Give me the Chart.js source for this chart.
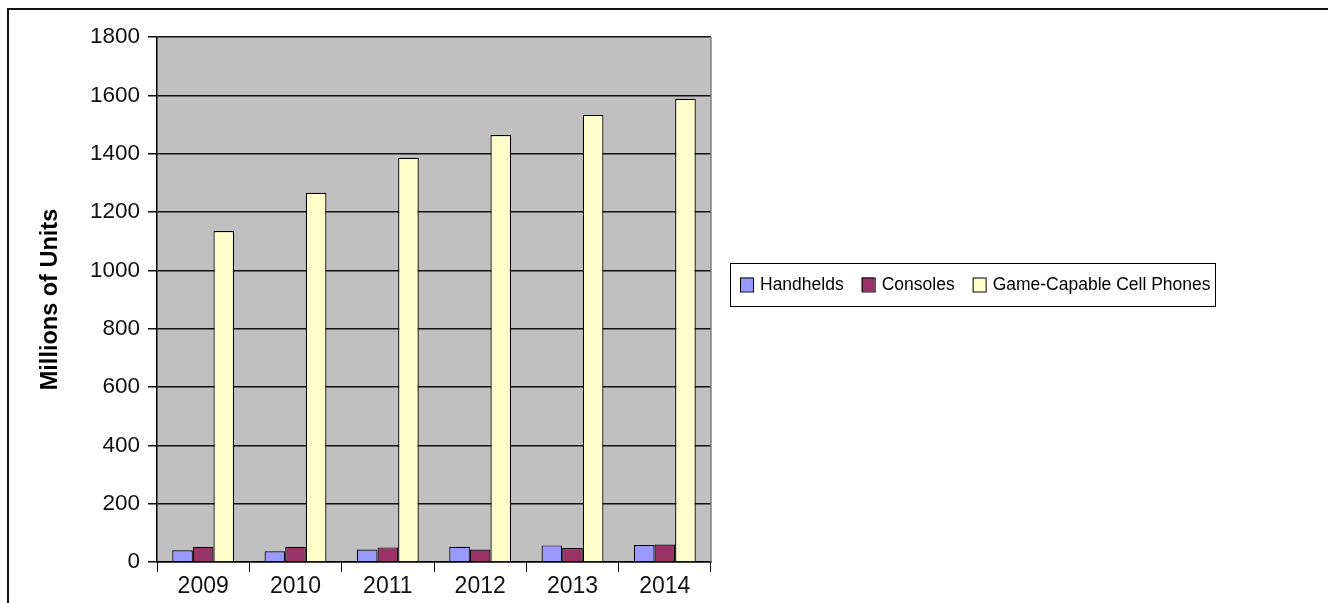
<!DOCTYPE html>
<html>
<head>
<meta charset="utf-8">
<script src="https://cdn.jsdelivr.net/npm/chart.js@4/dist/chart.umd.min.js"></script>
<style>
  html, body { margin: 0; padding: 0; background: #fff; }
  #wrap { width: 1328px; height: 603px; position: relative; }
</style>
</head>
<body>
<div id="wrap"><canvas id="units_canvas"></canvas></div>
<script>
// units shipped per year, millions
var years = ['2009', '2010', '2011', '2012', '2013', '2014'];
var handhelds = [40, 37, 43, 52, 57, 58];
var consoles = [52, 52, 50, 43, 48, 60];
var cellPhones = [1135, 1266, 1386, 1464, 1533, 1588];
var yTicks = [0, 200, 400, 600, 800, 1000, 1200, 1400, 1600, 1800];

var FONT = '"Liberation Sans", Arial, sans-serif';

// gray plot area + right edge line
var plotArea = {
    id: 'plotArea',
    beforeDraw: function (chart) {
        var a = chart.chartArea;
        var ctx = chart.ctx;
        ctx.save();
        ctx.fillStyle = '#c0c0c0';
        ctx.fillRect(a.left, a.top, a.right - a.left, a.bottom - a.top);
        ctx.restore();
    },
    beforeDatasetsDraw: function (chart) {
        var a = chart.chartArea;
        var ctx = chart.ctx;
        ctx.save();
        ctx.strokeStyle = '#808080';
        ctx.lineWidth = 1.5;
        ctx.beginPath();
        ctx.moveTo(a.right, a.top);
        ctx.lineTo(a.right, a.bottom);
        ctx.stroke();
        ctx.restore();
    }
};

// boxed one-row legend to the right of the plot, plus the outer frame
var boxLegend = {
    id: 'boxLegend',
    afterDraw: function (chart) {
        var ctx = chart.ctx;
        ctx.save();

        // outer frame (left + top only)
        ctx.strokeStyle = '#111';
        ctx.lineWidth = 2;
        ctx.beginPath();
        ctx.moveTo(8, 603);
        ctx.lineTo(8, 9);
        ctx.lineTo(1328, 9);
        ctx.stroke();

        var bx = 730, by = 263, bw = 485, bh = 43;
        ctx.fillStyle = '#fff';
        ctx.fillRect(bx, by, bw, bh);
        ctx.strokeStyle = '#000';
        ctx.lineWidth = 1;
        ctx.strokeRect(bx + 0.5, by + 0.5, bw, bh);

        ctx.font = '17.5px ' + FONT;
        ctx.textBaseline = 'middle';
        var cy = by + bh / 2;
        var x = 740;
        chart.data.datasets.forEach(function (ds) {
            ctx.fillStyle = ds.backgroundColor;
            ctx.fillRect(x, cy - 7, 13, 14);
            ctx.strokeStyle = '#000';
            ctx.lineWidth = 1;
            ctx.strokeRect(x + 0.5, cy - 7 + 0.5, 13, 14);
            ctx.fillStyle = '#000';
            ctx.fillText(ds.label, x + 20, cy + 1);
            x += 20 + ctx.measureText(ds.label).width + 18;
        });
        ctx.restore();
    }
};

var ctx = document.getElementById('units_canvas').getContext('2d');
var unitsChart = new Chart(ctx, {
    type: 'bar',
    data: {
        labels: years,
        datasets: [
            { label: 'Handhelds', data: handhelds, backgroundColor: '#9999ff' },
            { label: 'Consoles', data: consoles, backgroundColor: '#993366' },
            { label: 'Game-Capable Cell Phones', data: cellPhones, backgroundColor: '#ffffcc' }
        ]
    },
    options: {
        responsive: true,
        maintainAspectRatio: false,
        animation: false,
        devicePixelRatio: 1,
        layout: { padding: { top: 37, right: 617, left: 0, bottom: 0 } },
        datasets: {
            bar: {
                categoryPercentage: 0.67,
                barPercentage: 1,
                borderColor: '#000',
                borderWidth: 1.2
            }
        },
        plugins: {
            legend: { display: false },
            tooltip: { enabled: false }
        },
        scales: {
            x: {
                grid: {
                    drawOnChartArea: false,
                    drawTicks: true,
                    tickLength: 10,
                    color: '#000',
                    offset: true
                },
                border: { color: '#000', width: 1.5 },
                ticks: {
                    color: '#111',
                    padding: 1,
                    font: { family: FONT, size: 23 }
                },
                afterFit: function (scale) { scale.height = 41; }
            },
            y: {
                min: 0,
                max: 1800,
                afterBuildTicks: function (scale) {
                    scale.ticks = yTicks.map(function (v) { return { value: v }; });
                },
                grid: {
                    color: '#111',
                    lineWidth: 1.5,
                    tickLength: 9
                },
                border: { color: '#000', width: 1.5 },
                ticks: {
                    color: '#111',
                    padding: 8,
                    font: { family: FONT, size: 22.5 },
                    callback: function (v) { return String(v); }
                },
                title: {
                    display: true,
                    text: 'Millions of Units',
                    color: '#000',
                    padding: { top: 36, bottom: 0 },
                    font: { family: FONT, size: 23.5, weight: 'bold' }
                },
                afterFit: function (scale) { scale.width = 157; }
            }
        }
    },
    plugins: [plotArea, boxLegend]
});
</script>
</body>
</html>
